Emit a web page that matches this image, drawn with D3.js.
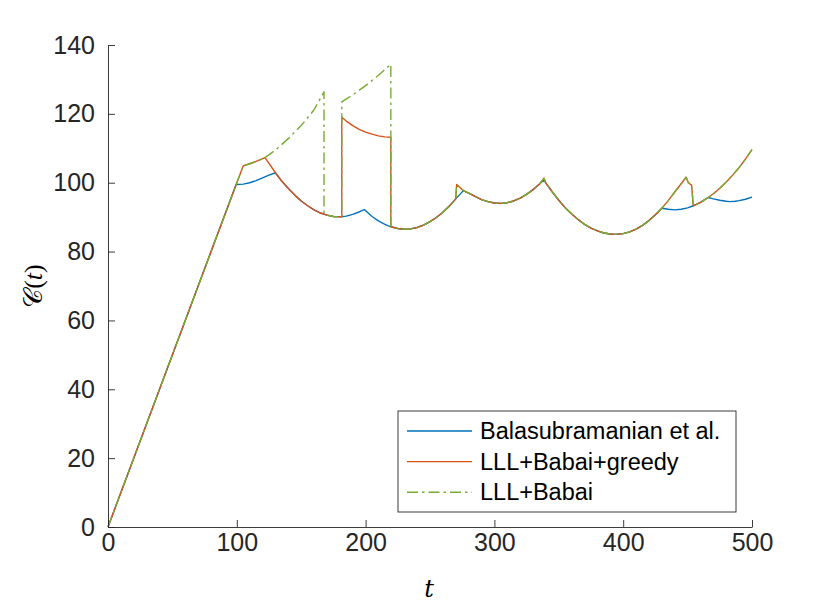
<!DOCTYPE html>
<html>
<head>
<meta charset="utf-8">
<script src="https://cdn.jsdelivr.net/npm/d3@7"></script>
<style>
  html, body { margin: 0; padding: 0; background: #fff; }
  svg { display: block; }
</style>
</head>
<body>
<svg id="chart" width="830" height="608"></svg>
<script>
// ---- data ----
const xTicks = [0, 100, 200, 300, 400, 500];
const yTicks = [0, 20, 40, 60, 80, 100, 120, 140];
const seriesNames = ["Balasubramanian et al.", "LLL+Babai+greedy", "LLL+Babai"];

// shared pieces of the curves
const ramp = [[0,0],[99.5,99.5]];
const rampUp = [[105,104.9],[110,105.5],[115,106.2],[121.9,107.3]];
const descent = [[130,102.9],[135,100.4],[140,98.3],[145,96.4],[150,94.7],[155,93.3],[160,92.1],[165,91.2],[170,90.6],[175,90.2],[181.5,90.1]];
const valley = [[225,86.7],[230,86.5],[235,86.6],[240,87.0],[245,87.7],[250,88.7],[255,89.9],[260,91.4],[265,93.2],[270,95.3]];
const middle = [[275.9,97.7],[280,97.0],[285,96.0],[290,95.1],[295,94.5],[300,94.1],[305,94.0],[310,94.2],[315,94.7],[320,95.5],[325,96.6],[330,98.0],[335,99.6]];
const descent2 = [[340,99.9],[345,97.3],[350,94.9],[355,92.7],[360,90.9],[365,89.3],[370,87.9],[375,86.8],[380,86.0],[385,85.4],[390,85.1],[394,85.0],[400,85.2],[405,85.7],[410,86.5],[415,87.6],[420,89.0],[425,90.7],[430,92.6]];
const tailShared = [[454.4,93.3],[460,94.3],[466,95.7]];

// Balasubramanian et al.
const balasubramanian = [].concat(
  ramp,
  [[105,99.6],[110,100.0],[115,100.6],[120,101.4],[125,102.2]],
  descent,
  [[185,90.3],[190,90.8],[195,91.5],[199,92.2],[205,90.2],[210,88.9],[215,87.9],[219.6,87.2]],
  valley, middle,
  [[338.5,100.8]],
  descent2,
  [[435,92.3],[440,92.1],[445,92.3],[450,92.7]],
  tailShared,
  [[470,95.3],[475,94.9],[480,94.6],[483,94.5],[487,94.6],[490,94.8],[495,95.2],[500,95.8]]
);

// LLL+Babai+greedy
const greedy = [].concat(
  ramp, rampUp,
  [[125,105.6]],
  descent,
  [[181.5,119.0],[185,117.9],[190,116.6],[195,115.5],[200,114.7],[205,114.1],[210,113.6],[215,113.3],[219.6,113.2],[219.6,87.2]],
  valley,
  [[270.7,99.5]],
  middle,
  [[338.5,101.3]],
  descent2,
  [[435,94.8],[440,97.3],[445,99.7],[448.8,101.6],[450.6,100.0],[453.1,99.3]],
  tailShared,
  [[470,96.8],[475,98.4],[480,100.2],[485,102.2],[490,104.4],[495,106.9],[500,109.6]]
);

// LLL+Babai
const babai = [].concat(
  ramp, rampUp,
  [[130,109.5],[140,112.8],[150,116.6],[160,121.2],[167.7,126.4],[167.7,91.0],[170,90.6],[175,90.2],[181.5,90.1],
   [181.5,123.5],[190,125.5],[200,128.2],[210,131.2],[219.6,134.4],[219.6,87.2]],
  valley,
  [[270.7,99.5]],
  middle,
  [[338.5,101.3]],
  descent2,
  [[435,94.8],[440,97.3],[445,99.7],[448.8,101.6],[450.6,100.0],[453.1,99.3]],
  tailShared,
  [[470,96.8],[475,98.4],[480,100.2],[485,102.2],[490,104.4],[495,106.9],[500,109.6]]
);

const seriesData = [balasubramanian, greedy, babai];
const seriesColors = ["#0072BD", "#D95319", "#77AC30"];
const seriesDash = [null, null, "11,4,2.5,4"];

// ---- drawing ----
const svg = d3.select("#chart");
const x = d3.scaleLinear().domain([0, 500]).range([108, 752]);
const y = d3.scaleLinear().domain([0, 140]).range([527, 45]);
const axisColor = "#262626";

const line = d3.line().x(d => x(d[0])).y(d => y(d[1]));

seriesData.forEach((data, i) => {
  svg.append("path")
    .datum(data)
    .attr("fill", "none")
    .attr("stroke", seriesColors[i])
    .attr("stroke-width", 1.4)
    .attr("stroke-linejoin", "round")
    .attr("stroke-dasharray", seriesDash[i])
    .attr("d", line);
});

const gx = svg.append("g")
  .attr("transform", `translate(0,${y(0)})`)
  .call(d3.axisBottom(x).tickValues(xTicks).tickSizeInner(-7).tickSizeOuter(0).tickPadding(6));
const gy = svg.append("g")
  .attr("transform", `translate(${x(0)},0)`)
  .call(d3.axisLeft(y).tickValues(yTicks).tickSizeInner(-7).tickSizeOuter(0).tickPadding(13));

[gx, gy].forEach(g => {
  g.select(".domain").attr("stroke", axisColor).attr("stroke-width", 0.9);
  g.selectAll(".tick line").attr("stroke", axisColor).attr("stroke-width", 0.9);
  g.selectAll(".tick text")
    .attr("fill", axisColor)
    .style("font-family", "'Liberation Sans', Arial, Helvetica, sans-serif")
    .style("font-size", "25px");
});

// axis labels
svg.append("text")
  .attr("x", 429).attr("y", 597)
  .attr("text-anchor", "middle")
  .style("font-family", "'DejaVu Serif', 'Liberation Serif', serif")
  .style("font-style", "italic")
  .style("font-size", "24px")
  .attr("fill", "#000")
  .text("t");

const yl = svg.append("text")
  .attr("transform", "translate(42,286) rotate(-90)")
  .attr("text-anchor", "middle")
  .style("font-family", "'Liberation Serif', 'DejaVu Serif', serif")
  .style("font-size", "26px")
  .attr("fill", "#000");
yl.append("tspan").style("font-family", "'DejaVu Serif', 'DejaVu Sans', serif").text("𝒞");
yl.append("tspan").text("(");
yl.append("tspan").style("font-style", "italic").text("t");
yl.append("tspan").text(")");

// legend
const lg = svg.append("g");
lg.append("rect")
  .attr("x", 398).attr("y", 411).attr("width", 338).attr("height", 101)
  .attr("fill", "#fff").attr("stroke", axisColor).attr("stroke-width", 0.9);
seriesNames.forEach((name, i) => {
  const yy = 431 + i * 30.6;
  lg.append("line")
    .attr("x1", 407).attr("x2", 472).attr("y1", yy).attr("y2", yy)
    .attr("stroke", seriesColors[i]).attr("stroke-width", 1.4)
    .attr("stroke-dasharray", seriesDash[i]);
  lg.append("text")
    .attr("x", 480).attr("y", yy)
    .attr("dy", "0.35em")
    .style("font-family", "'Liberation Sans', Arial, Helvetica, sans-serif")
    .style("font-size", "23.5px")
    .attr("fill", "#000")
    .text(name);
});
</script>
</body>
</html>
